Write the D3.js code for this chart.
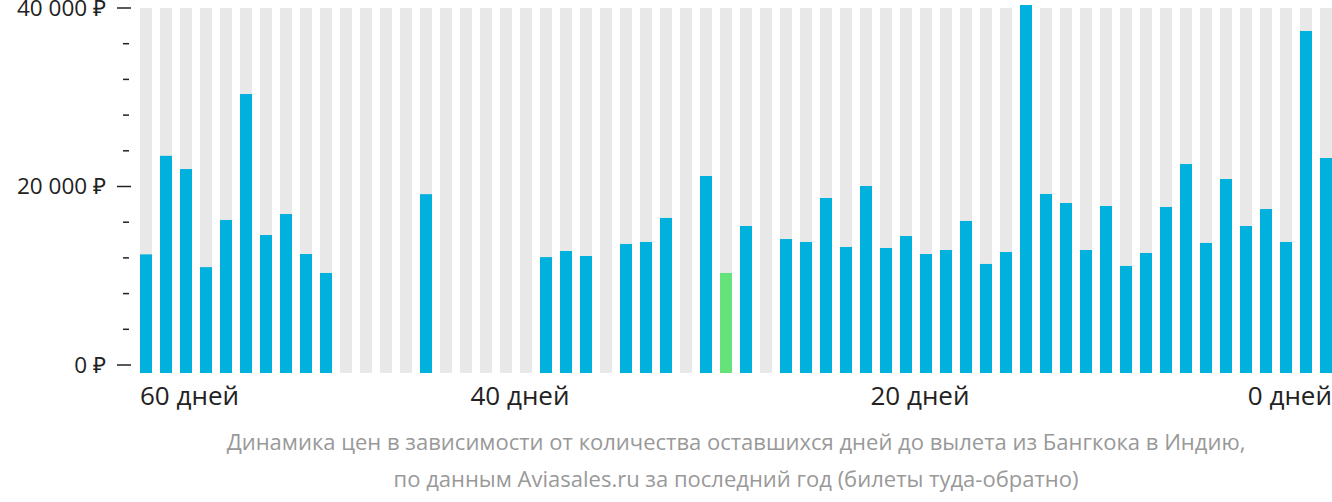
<!DOCTYPE html><html><head><meta charset="utf-8"><script src="https://cdn.jsdelivr.net/npm/d3@7"></script>
<style>body{margin:0;background:#fff}svg{font-family:"Open Sans",sans-serif}</style></head><body><svg width="1332" height="502"></svg>
<script>
const days = d3.range(59,-1,-1);
const prices = [12395,23437,21955,10964,16250,30359,14563,16914,12436,10310,null,null,null,null,19143,null,null,null,null,null,12088,12773,12211,null,13561,13785,16475,null,21177,10310,15575,null,14113,13785,18713,13223,20053,13111,14450,12436,12886,16137,11322,12661,40337,19163,18151,12886,17814,11097,12548,17701,22517,13673,20840,15575,17476,13785,37424,23192];
const cheapestDay = 30;
const yTicks = [0,20000,40000];
const xLabels = [{d:59,t:"60 дней",a:"start"},{d:40,t:"40 дней",a:"middle"},{d:20,t:"20 дней",a:"middle"},{d:0,t:"0 дней",a:"end"}];
const caption = ["Динамика цен в зависимости от количества оставшихся дней до вылета из Бангкока в Индию,","по данным Aviasales.ru за последний год (билеты туда-обратно)"];
const svg=d3.select("svg");
const x=d3.scaleBand().domain(days).range([140,1332]).paddingInner(0.4).paddingOuter(0);
const y=d3.scaleLinear().domain([0,40000]).range([365,8]);
const base=373;
svg.selectAll(".bg").data(days).join("rect").attr("x",d=>x(d)).attr("width",x.bandwidth()).attr("y",y(40000)).attr("height",base-y(40000)).attr("fill","#e8e8e8");
svg.selectAll(".b").data(days.map((d,i)=>({d,v:prices[i]})).filter(o=>o.v!=null)).join("rect")
 .attr("x",o=>x(o.d)).attr("width",x.bandwidth()).attr("y",o=>y(o.v)).attr("height",o=>base-y(o.v)).attr("fill",o=>o.d===cheapestDay?"#66e27a":"#00b0dd");
d3.range(0,40001,4000).forEach(v=>{const major=v%20000===0;
 svg.append("line").attr("x1",major?117:123).attr("x2",major?131:129).attr("y1",y(v)).attr("y2",y(v)).attr("stroke","#222").attr("stroke-width",1.5);});
yTicks.forEach(v=>svg.append("text").attr("x",106).attr("y",y(v)).attr("dy","0.35em").attr("text-anchor","end").attr("font-size",22.5).attr("fill","#222").text(d3.format(",")(v).replace(/,/g," ")+" ₽"));
xLabels.forEach(l=>{const cx=l.a==="start"?x(l.d):l.a==="end"?x(l.d)+x.bandwidth():x(l.d);
 svg.append("text").attr("x",cx).attr("y",405).attr("text-anchor",l.a).attr("font-size",26).attr("fill","#222").text(l.t);});
caption.forEach((c,i)=>svg.append("text").attr("x",736).attr("y",450+i*37).attr("text-anchor","middle").attr("font-size",22).attr("fill","#999").text(c));
</script></body></html>
